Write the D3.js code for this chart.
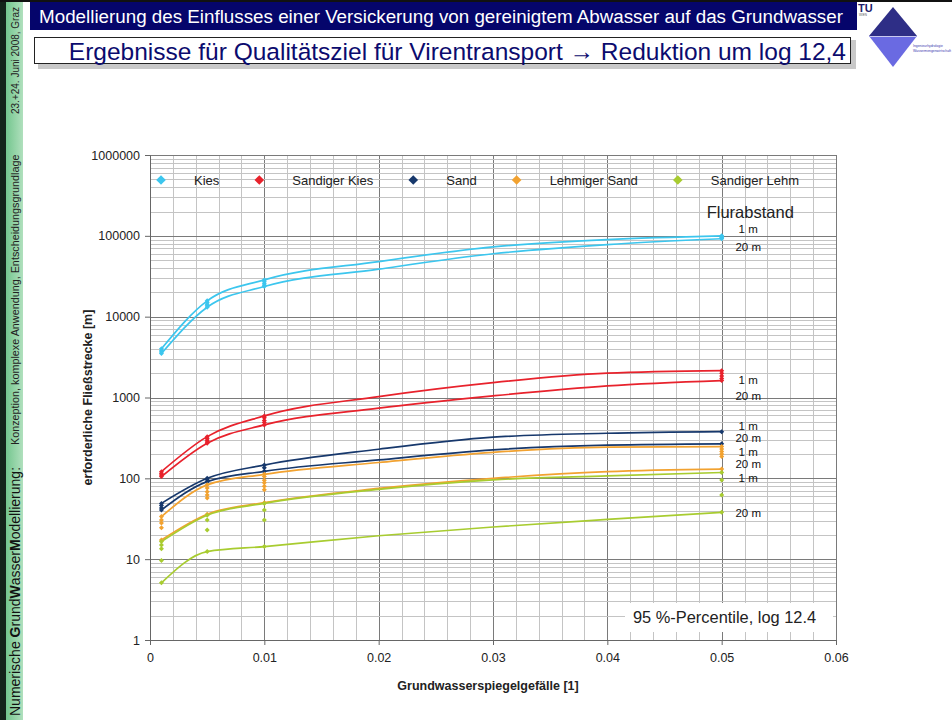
<!DOCTYPE html>
<html>
<head>
<meta charset="utf-8">
<script src="https://cdn.jsdelivr.net/npm/d3@7"></script>
<style>
  body { margin: 0; background: #fff; }
  svg { display: block; }
  text { font-family: Arial, "Liberation Sans", sans-serif; }
</style>
</head>
<body>
<div id="chart"></div>
<script>
(function () {

    // soil types + colours (legend order)
    var soils = ["Kies", "Sandiger Kies", "Sand", "Lehmiger Sand", "Sandiger Lehm"];
    var colors = ["#3cc6ee", "#e8222c", "#17386c", "#f2a230", "#a8cc30"];

    var lineGradients = [0.001, 0.005, 0.01, 0.02, 0.03, 0.04, 0.05];

    // Flurabstand 1 m (upper curve of each soil)
    var line1m = [
        [4000, 15700, 28500, 48000, 73000, 90000, 100000],
        [121, 328, 592, 1026, 1530, 2000, 2150],
        [49, 100, 146, 229, 323, 361, 378],
        [33.6, 83, 112, 157, 210, 243, 247],
        [16.5, 35, 49, 73, 95.7, 107, 118]
    ];
    // Flurabstand 20 m (lower curve of each soil)
    var line20m = [
        [3500, 13100, 23600, 38700, 60000, 78000, 92000],
        [105, 272, 458, 737, 1047, 1393, 1620],
        [40.6, 91, 122, 169, 225, 257, 267],
        [17.3, 36, 50, 75, 100, 121, 130],
        [5.1, 12.4, 14.3, 19.5, 25, 31, 38]
    ];

    // scatter clusters (all Flurabstaende) at the computed gradients
    var pointGradients = [0.001, 0.005, 0.01, 0.05];
    var pointValues = [
        [[4000, 3800, 3650, 3500], [15700, 15000, 14200, 13600, 13100], [28500, 27000, 25500, 24500, 23600], [100000, 98000, 96000, 94000, 92000]],
        [[121, 115, 110, 105], [328, 310, 295, 282, 272], [592, 560, 520, 490, 458], [2150, 2000, 1850, 1720, 1620]],
        [[49, 46, 43, 40.6], [100, 96, 91], [146, 135, 122], [378, 267]],
        [[33.6, 30.6, 28, 24.4, 17.3], [83, 76, 68, 62, 57, 36], [112, 105, 95, 88, 80, 72, 50], [247, 230, 215, 200, 186, 130]],
        [[16.5, 15, 13.5, 9.6, 5.1], [35, 30.6, 23, 12.4], [49, 40.7, 30.6, 14.3], [118, 95.6, 62, 38]]
    ];

    // ticks
    var xTicks = [0, 0.01, 0.02, 0.03, 0.04, 0.05, 0.06];
    var yTicks = [1, 10, 100, 1000, 10000, 100000, 1000000];

    // "1 m" / "20 m" labels beside the curve ends (data value where they sit)
    var flurLabelAt = [
        [122000, 73100],
        [1650, 1047],
        [444, 316],
        [212, 151],
        [101, 37]
    ];

    var width = 952, height = 720;
    var svg = d3.select("#chart").append("svg")
        .attr("width", width)
        .attr("height", height);

    // ---------- slide decoration ----------
    var side = svg.append("defs").append("linearGradient").attr("id", "sideGrad");
    side.append("stop").attr("offset", "0%").attr("stop-color", "#74c68e");
    side.append("stop").attr("offset", "100%").attr("stop-color", "#b0e0bd");

    svg.append("rect").attr("x", 0).attr("y", 0).attr("width", 6).attr("height", height).attr("fill", "#14241a");
    svg.append("rect").attr("x", 6).attr("y", 0).attr("width", 17).attr("height", height).attr("fill", "url(#sideGrad)");
    svg.append("rect").attr("x", 0).attr("y", 0).attr("width", width).attr("height", 2).attr("fill", "#111");

    var sideText = svg.append("text")
        .attr("transform", "translate(19.5,716) rotate(-90)")
        .attr("font-size", 14).attr("fill", "#111");
    [["Numerische ", 0], ["G", 1], ["rund", 0], ["W", 1], ["asser", 0], ["M", 1], ["odellierung:", 0]].forEach(function (p) {
        sideText.append("tspan").text(p[0]).attr("font-weight", p[1] ? "bold" : "normal");
    });
    svg.append("text")
        .attr("transform", "translate(18.5,445) rotate(-90)")
        .attr("font-size", 10.8).attr("fill", "#222")
        .text("Konzeption, komplexe Anwendung, Entscheidungsgrundlage");
    svg.append("text")
        .attr("transform", "translate(18.5,114) rotate(-90)")
        .attr("font-size", 10).attr("fill", "#222")
        .text("23.+24. Juni 2008, Graz");

    // header bar
    svg.append("rect").attr("x", 30).attr("y", 2).attr("width", 827).attr("height", 28).attr("fill", "#05056b");
    svg.append("text").attr("x", 441).attr("y", 16).attr("dy", "0.35em")
        .attr("text-anchor", "middle").attr("fill", "#fff").attr("font-size", 18.8)
        .text("Modellierung des Einflusses einer Versickerung von gereinigtem Abwasser auf das Grundwasser");

    // subtitle box with hatched shadow
    svg.append("rect").attr("x", 38).attr("y", 64).attr("width", 817).attr("height", 5).attr("fill", "#c8c8c8");
    svg.append("rect").attr("x", 851).attr("y", 40).attr("width", 5).attr("height", 29).attr("fill", "#c8c8c8");
    svg.append("rect").attr("x", 34.5).attr("y", 37.5).attr("width", 816).attr("height", 26)
        .attr("fill", "#fff").attr("stroke", "#222").attr("stroke-width", 1);
    svg.append("text").attr("x", 846).attr("y", 51).attr("dy", "0.35em")
        .attr("text-anchor", "end").attr("fill", "#0b0b6e").attr("font-size", 24.5)
        .text("Ergebnisse für Qualitätsziel für Virentransport \u2192 Reduktion um log 12,4");

    // logo
    var logo = svg.append("g").attr("transform", "translate(893,36)");
    logo.append("path").attr("d", "M0,-29 L24,0 L-24,0 Z").attr("fill", "#2e2e86");
    logo.append("path").attr("d", "M-24,0 L24,0 L0,31 Z").attr("fill", "#6a6ae2");
    logo.append("line").attr("x1", -23).attr("x2", 23).attr("y1", 0.5).attr("y2", 0.5).attr("stroke", "#c9c9f0").attr("stroke-width", 1);
    svg.append("text").attr("x", 858).attr("y", 12).attr("font-size", 11).attr("font-weight", "bold").attr("fill", "#1c1c6a").text("TU");
    svg.append("text").attr("x", 859).attr("y", 16).attr("font-size", 3).attr("fill", "#555").text("WIEN");
    svg.append("text").attr("x", 913).attr("y", 47).attr("font-size", 3.4).attr("fill", "#3a3ab0").text("Ingenieurhydrologie");
    svg.append("text").attr("x", 913).attr("y", 52).attr("font-size", 3.4).attr("fill", "#3a3ab0").text("Wassermengenwirtschaft");

    // ---------- chart ----------
    var x = d3.scaleLinear().domain([0, 0.06]).range([150, 836]);
    var y = d3.scaleLog().domain([1, 1000000]).range([640, 155]);

    var grid = svg.append("g");
    // vertical minor/major
    d3.range(0, 31).forEach(function (i) {
        var v = i * 0.002;
        var major = i % 5 === 0;
        grid.append("line")
            .attr("x1", Math.round(x(v)) + 0.5).attr("x2", Math.round(x(v)) + 0.5)
            .attr("y1", y(1000000)).attr("y2", y(1))
            .attr("stroke", major ? "#7a7a7a" : "#c4c4c4").attr("stroke-width", 1);
    });
    // horizontal minor
    yTicks.slice(0, -1).forEach(function (d) {
        d3.range(2, 10).forEach(function (k) {
            grid.append("line")
                .attr("x1", x(0)).attr("x2", x(0.06))
                .attr("y1", Math.round(y(d * k)) + 0.5).attr("y2", Math.round(y(d * k)) + 0.5)
                .attr("stroke", "#c4c4c4").attr("stroke-width", 1.2);
        });
    });
    yTicks.forEach(function (d) {
        grid.append("line")
            .attr("x1", x(0)).attr("x2", x(0.06))
            .attr("y1", Math.round(y(d)) + 0.5).attr("y2", Math.round(y(d)) + 0.5)
            .attr("stroke", "#7a7a7a").attr("stroke-width", 1.2);
    });

    // axes
    var yAxis = svg.append("g").attr("transform", "translate(" + x(0) + ",0)")
        .call(d3.axisLeft(y).tickValues(yTicks).tickFormat(d3.format("d")).tickSize(5).tickPadding(5));
    var xAxis = svg.append("g").attr("transform", "translate(0," + y(1) + ")")
        .call(d3.axisBottom(x).tickValues(xTicks)
            .tickFormat(function (d) { return d === 0 ? "0" : d3.format(".2f")(d); })
            .tickSize(5).tickPadding(8));
    [yAxis, xAxis].forEach(function (a) {
        a.selectAll("text").attr("font-size", 12.5).attr("fill", "#222").style("font-family", "Arial, 'Liberation Sans', sans-serif");
        a.selectAll("line").attr("stroke", "#666");
        a.select(".domain").attr("stroke", "#666");
    });

    svg.append("text")
        .attr("transform", "translate(92," + y(1000) + ") rotate(-90)")
        .attr("text-anchor", "middle").attr("font-size", 12.5).attr("font-weight", "bold").attr("fill", "#222")
        .text("erforderliche Fließstrecke [m]");
    svg.append("text")
        .attr("x", 488).attr("y", 686).attr("dy", "0.35em")
        .attr("text-anchor", "middle").attr("font-size", 12.5).attr("font-weight", "bold").attr("fill", "#222")
        .text("Grundwasserspiegelgefälle [1]");

    // curves
    var line = d3.line()
        .x(function (d, i) { return x(lineGradients[i]); })
        .y(function (d) { return y(d); })
        .curve(d3.curveMonotoneX);

    var series = svg.append("g");
    soils.forEach(function (s, si) {
        [line1m[si], line20m[si]].forEach(function (vals) {
            series.append("path")
                .attr("d", line(vals))
                .attr("fill", "none")
                .attr("stroke", colors[si])
                .attr("stroke-width", 1.7);
        });
    });

    // point clusters
    var diamond = function (r) { return "M0," + (-r) + "L" + r + ",0L0," + r + "L" + (-r) + ",0Z"; };
    soils.forEach(function (s, si) {
        pointValues[si].forEach(function (vals, gi) {
            vals.forEach(function (v) {
                series.append("path")
                    .attr("d", diamond(2.5))
                    .attr("transform", "translate(" + x(pointGradients[gi]) + "," + y(v) + ")")
                    .attr("fill", colors[si]);
            });
        });
    });

    // legend
    var legend = svg.append("g").attr("transform", "translate(0,180)");
    var lx = 161;
    soils.forEach(function (s, si) {
        legend.append("path").attr("d", diamond(4.8))
            .attr("transform", "translate(" + lx + ",0)")
            .attr("fill", colors[si]);
        var t = legend.append("text").attr("x", lx + 33).attr("y", 0).attr("dy", "0.35em")
            .attr("font-size", 13).attr("fill", "#222").text(s);
        lx += 33 + t.node().getComputedTextLength() + 40;
    });

    // Flurabstand labels
    svg.append("text").attr("x", x(0.0525)).attr("y", y(198000)).attr("dy", "0.35em")
        .attr("text-anchor", "middle").attr("font-size", 16.5).attr("fill", "#222").text("Flurabstand");
    flurLabelAt.forEach(function (pair) {
        ["1 m", "20 m"].forEach(function (lab, k) {
            svg.append("text").attr("x", x(0.05232)).attr("y", y(pair[k])).attr("dy", "0.35em")
                .attr("text-anchor", "middle").attr("font-size", 11.5).attr("fill", "#111").text(lab);
        });
    });

    // percentile note
    svg.append("rect").attr("x", 625).attr("y", 603).attr("width", 208).attr("height", 29).attr("fill", "#fff");
    svg.append("text").attr("x", 633).attr("y", 617.5).attr("dy", "0.35em")
        .attr("font-size", 16.4).attr("fill", "#222").text("95 %-Percentile, log 12.4");

})()
</script>
</body>
</html>
